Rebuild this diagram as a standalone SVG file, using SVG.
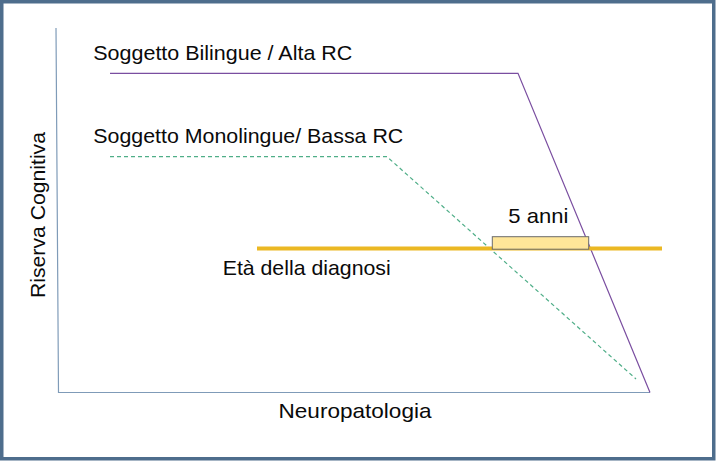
<svg xmlns="http://www.w3.org/2000/svg" width="716" height="461" viewBox="0 0 716 461">
<style>
text{font-family:"Liberation Sans",Arial,sans-serif;font-size:21px;fill:#0a0a0a}
.axis{stroke:#7f9bb8;stroke-width:1.2;fill:none}
.bil{stroke:#7a4ea0;stroke-width:1.2;fill:none}
.mono{stroke:#4fae88;stroke-width:1.2;fill:none;stroke-dasharray:4 3}
</style>
<rect x="1.75" y="1.75" width="712" height="457" fill="#fff" stroke="#4e6d8c" stroke-width="3.5"/>
<g id="axes">
<polyline class="axis" points="56,28 58.5,392.5 650,392.5"/>
</g>
<g id="connectors">
<polyline class="bil" points="110,73.3 518,73.3 650,392.5"/>
<polyline class="mono" points="110,156.7 387,156.7 636,379"/>
<line x1="257" y1="248.5" x2="662" y2="248.5" stroke="#ebb823" stroke-width="4"/>
</g>
<g id="interval">
<rect x="492.3" y="236.7" width="96.4" height="12.5" fill="#ffe699" stroke="#6b6b6b" stroke-width="1"/>
<text x="508.3" y="223" textLength="60" lengthAdjust="spacingAndGlyphs">5 anni</text>
</g>
<g id="labels">
<text x="93.3" y="60" textLength="259" lengthAdjust="spacingAndGlyphs">Soggetto Bilingue / Alta RC</text>
<text x="93.3" y="143" textLength="310" lengthAdjust="spacingAndGlyphs">Soggetto Monolingue/ Bassa RC</text>
<text x="222.7" y="274.5" textLength="168" lengthAdjust="spacingAndGlyphs">Età della diagnosi</text>
<text x="278.5" y="418" textLength="153" lengthAdjust="spacingAndGlyphs">Neuropatologia</text>
<text transform="translate(44.5,298) rotate(-90)" textLength="166" lengthAdjust="spacingAndGlyphs">Riserva Cognitiva</text>
</g>
</svg>
